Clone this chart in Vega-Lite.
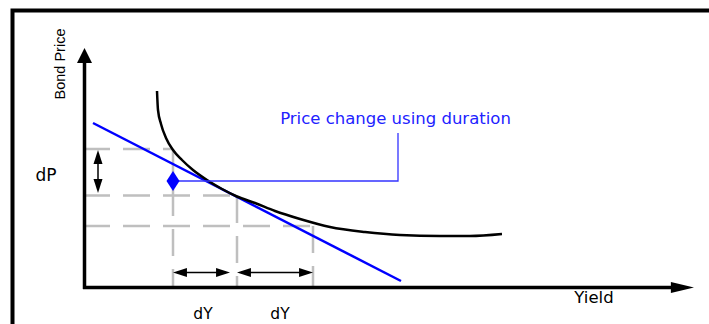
{
  "$schema": "https://vega.github.io/schema/vega-lite/v6.json",
  "width": 709,
  "height": 324,
  "padding": 0,
  "autosize": {"type": "none"},
  "background": "white",
  "config": {"view": {"stroke": null}},
  "datasets": {
    "frame": [
      {"yield": 12.5, "price": -6, "o": 1},
      {"yield": 12.5, "price": 313.5, "o": 2},
      {"yield": 720, "price": 313.5, "o": 3}
    ],
    "axes": [
      {"yield": 84.5, "price": 35, "yield2": 84.5, "price2": 264},
      {"yield": 83, "price": 36.5, "yield2": 676, "price2": 36.5}
    ],
    "grid": [
      {"yield": 83, "price": 175, "yield2": 173, "price2": 175},
      {"yield": 83, "price": 128.5, "yield2": 237, "price2": 128.5},
      {"yield": 83, "price": 98, "yield2": 313, "price2": 98},
      {"yield": 173, "price": 175, "yield2": 173, "price2": 37},
      {"yield": 237, "price": 128, "yield2": 237, "price2": 37},
      {"yield": 313, "price": 98, "yield2": 313, "price2": 37}
    ],
    "curve": [
      {"yield": 157, "price": 233},
      {"yield": 158, "price": 214},
      {"yield": 161, "price": 200},
      {"yield": 166, "price": 186},
      {"yield": 173, "price": 174},
      {"yield": 182, "price": 164},
      {"yield": 193, "price": 154},
      {"yield": 207, "price": 144},
      {"yield": 222, "price": 135},
      {"yield": 237, "price": 127.5},
      {"yield": 255, "price": 121},
      {"yield": 275, "price": 113},
      {"yield": 300, "price": 105},
      {"yield": 330, "price": 97},
      {"yield": 365, "price": 92},
      {"yield": 400, "price": 89},
      {"yield": 440, "price": 88},
      {"yield": 470, "price": 88},
      {"yield": 502, "price": 90}
    ],
    "tangent": [
      {"yield": 93, "price": 201, "yield2": 401, "price2": 43}
    ],
    "callout": [
      {"yield": 173, "price": 143, "o": 1},
      {"yield": 398, "price": 143, "o": 2},
      {"yield": 398, "price": 191, "o": 3}
    ],
    "shafts": [
      {"yield": 98, "price": 170, "yield2": 98, "price2": 135},
      {"yield": 177, "price": 51.5, "yield2": 226, "price2": 51.5},
      {"yield": 241, "price": 51.5, "yield2": 309, "price2": 51.5}
    ],
    "heads": [
      {"yield": 98, "price": 174, "dir": "up"},
      {"yield": 98, "price": 131, "dir": "down"},
      {"yield": 173, "price": 51.5, "dir": "left"},
      {"yield": 230, "price": 51.5, "dir": "right"},
      {"yield": 237, "price": 51.5, "dir": "left"},
      {"yield": 313, "price": 51.5, "dir": "right"}
    ],
    "labels": [
      {"yield": 46, "price": 143, "text": "dP", "size": 17},
      {"yield": 203, "price": 5.5, "text": "dY", "size": 15.5},
      {"yield": 280, "price": 5.5, "text": "dY", "size": 15.5},
      {"yield": 594, "price": 21, "text": "Yield", "size": 16.5}
    ]
  },
  "encoding": {
    "x": {"field": "yield", "type": "quantitative", "scale": {"domain": [0, 709], "nice": false, "zero": false}, "axis": null},
    "y": {"field": "price", "type": "quantitative", "scale": {"domain": [0, 324], "nice": false, "zero": false}, "axis": null}
  },
  "layer": [
    {
      "data": {"name": "frame"},
      "mark": {"type": "line", "color": "black", "strokeWidth": 4, "strokeJoin": "miter", "clip": false},
      "encoding": {"order": {"field": "o", "type": "quantitative"}}
    },
    {
      "data": {"name": "grid"},
      "mark": {"type": "rule", "color": "#bfbfbf", "strokeWidth": 2.5, "strokeDash": [27, 13]},
      "encoding": {"x2": {"field": "yield2"}, "y2": {"field": "price2"}}
    },
    {
      "data": {"name": "axes"},
      "mark": {"type": "rule", "color": "black", "strokeWidth": 3.5},
      "encoding": {"x2": {"field": "yield2"}, "y2": {"field": "price2"}}
    },
    {
      "data": {"values": [{"yield": 84.5, "price": 276}]},
      "mark": {"type": "point", "shape": "M0,0L-1,2L1,2Z", "size": 225, "filled": true, "color": "black", "opacity": 1}
    },
    {
      "data": {"values": [{"yield": 694, "price": 36.5}]},
      "mark": {"type": "point", "shape": "M0,0L-4.2,-1L-4.2,1Z", "size": 121, "filled": true, "color": "black", "opacity": 1}
    },
    {
      "data": {"name": "tangent"},
      "mark": {"type": "rule", "color": "#0000ff", "strokeWidth": 2.5},
      "encoding": {"x2": {"field": "yield2"}, "y2": {"field": "price2"}}
    },
    {
      "data": {"name": "curve"},
      "mark": {"type": "line", "color": "black", "strokeWidth": 2.5, "interpolate": "monotone"}
    },
    {
      "data": {"name": "callout"},
      "mark": {"type": "line", "color": "#3333ff", "strokeWidth": 1.3},
      "encoding": {"order": {"field": "o", "type": "quantitative"}}
    },
    {
      "data": {"values": [{"yield": 173, "price": 143}]},
      "mark": {"type": "point", "shape": "M0,-1L0.65,0L0,1L-0.65,0Z", "size": 400, "filled": true, "color": "#0000ff", "opacity": 1}
    },
    {
      "data": {"name": "shafts"},
      "mark": {"type": "rule", "color": "black", "strokeWidth": 1.5},
      "encoding": {"x2": {"field": "yield2"}, "y2": {"field": "price2"}}
    },
    {
      "data": {"name": "heads"},
      "mark": {"type": "point", "size": 81, "filled": true, "color": "black", "opacity": 1},
      "encoding": {
        "shape": {
          "field": "dir",
          "type": "nominal",
          "legend": null,
          "scale": {
            "domain": ["up", "down", "left", "right"],
            "range": ["M0,0L-1,3.1L1,3.1Z", "M0,0L-1,-3.1L1,-3.1Z", "M0,0L3.1,-1L3.1,1Z", "M0,0L-3.1,-1L-3.1,1Z"]
          }
        }
      }
    },
    {
      "data": {"name": "labels"},
      "mark": {"type": "text", "font": "DejaVu Sans", "color": "black", "align": "center", "baseline": "alphabetic"},
      "encoding": {
        "text": {"field": "text"},
        "size": {"field": "size", "type": "quantitative", "scale": null}
      }
    },
    {
      "data": {"values": [{"yield": 395.5, "price": 200, "text": "Price change using duration"}]},
      "mark": {"type": "text", "font": "DejaVu Sans", "fontSize": 16.5, "color": "#2222ff", "align": "center", "baseline": "alphabetic"},
      "encoding": {"text": {"field": "text"}}
    },
    {
      "data": {"values": [{"yield": 61, "price": 260, "text": "Bond Price"}]},
      "mark": {"type": "text", "font": "Liberation Sans", "fontSize": 14.5, "angle": 270, "color": "black", "align": "center", "baseline": "middle"},
      "encoding": {"text": {"field": "text"}}
    }
  ]
}
